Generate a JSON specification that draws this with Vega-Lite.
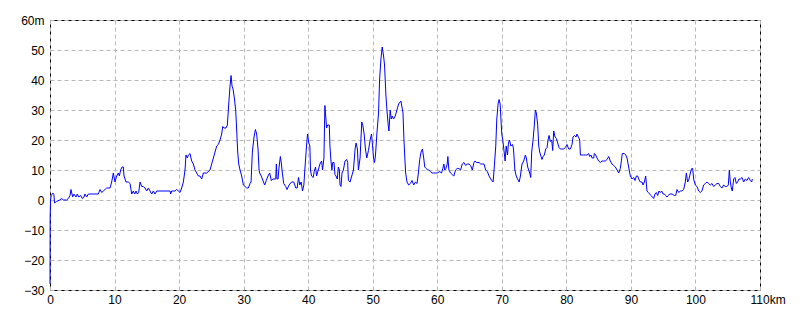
{
  "$schema": "https://vega.github.io/schema/vega-lite/v6.json",
  "width": 710,
  "height": 270,
  "autosize": {"type": "none"},
  "padding": {"left": 50, "top": 20, "right": 40, "bottom": 30},
  "background": "white",
  "config": {
    "view": {"stroke": "black", "strokeWidth": 1},
    "axis": {
      "labelFont": "Liberation Sans",
      "labelFontSize": 12,
      "labelColor": "black",
      "domain": false,
      "ticks": false,
      "grid": true,
      "gridColor": "#b8b8b8",
      "gridDash": [4, 3],
      "gridWidth": 1,
      "title": null
    }
  },
  "data": {
    "values": [
      {"km":0,"m":-28},{"km":0.02,"m":-6},{"km":0.08,"m":0},{"km":0.2,"m":1.5},{"km":0.45,"m":2.3},{"km":0.6,"m":1.8},{"km":0.7,"m":-1},{"km":1.0,"m":-0.5},{"km":1.5,"m":0},{"km":1.8,"m":0.5},{"km":2.07,"m":0},{"km":2.58,"m":0},{"km":2.84,"m":0.5},{"km":3.1,"m":1.5},{"km":3.25,"m":3.5},{"km":3.51,"m":1},{"km":3.72,"m":2},{"km":4.03,"m":1},{"km":4.24,"m":2},{"km":4.44,"m":1},{"km":4.75,"m":1.5},{"km":5.01,"m":0.5},{"km":5.27,"m":1},{"km":5.42,"m":2},{"km":5.68,"m":1},{"km":5.94,"m":2},{"km":7.49,"m":2},{"km":7.75,"m":3.5},{"km":8.01,"m":2.5},{"km":8.26,"m":3},{"km":8.78,"m":4},{"km":9.3,"m":4},{"km":9.56,"m":6},{"km":9.81,"m":9},{"km":10.07,"m":6},{"km":10.33,"m":8},{"km":10.59,"m":9},{"km":10.74,"m":8},{"km":10.95,"m":10},{"km":11.16,"m":11},{"km":11.36,"m":11},{"km":11.47,"m":8},{"km":11.78,"m":6},{"km":12.14,"m":6},{"km":12.4,"m":5.5},{"km":12.66,"m":2},{"km":12.91,"m":3},{"km":13.12,"m":2},{"km":13.33,"m":3},{"km":13.53,"m":2},{"km":13.74,"m":2.5},{"km":13.95,"m":6},{"km":14.2,"m":4.5},{"km":14.46,"m":4.5},{"km":14.72,"m":4},{"km":14.98,"m":3},{"km":15.24,"m":4},{"km":15.5,"m":3},{"km":15.75,"m":2},{"km":16.01,"m":3},{"km":16.27,"m":2},{"km":16.53,"m":3},{"km":17.05,"m":3},{"km":18.6,"m":3},{"km":18.7,"m":2},{"km":18.85,"m":3},{"km":19.37,"m":3},{"km":19.63,"m":3.5},{"km":19.89,"m":3},{"km":20.14,"m":2.5},{"km":20.4,"m":4},{"km":20.66,"m":6},{"km":20.92,"m":10},{"km":21.07,"m":15},{"km":21.28,"m":14},{"km":21.44,"m":15},{"km":21.69,"m":15.5},{"km":21.95,"m":13},{"km":22.21,"m":12},{"km":22.47,"m":10},{"km":22.73,"m":9},{"km":22.99,"m":8},{"km":23.24,"m":8},{"km":23.5,"m":7},{"km":23.76,"m":9},{"km":24.28,"m":9},{"km":24.79,"m":10},{"km":25.05,"m":12},{"km":25.31,"m":14},{"km":25.57,"m":16},{"km":25.83,"m":18},{"km":26.08,"m":18.5},{"km":26.34,"m":20},{"km":26.6,"m":22},{"km":26.76,"m":24.5},{"km":26.96,"m":24},{"km":27.27,"m":24},{"km":27.48,"m":25},{"km":27.69,"m":32},{"km":27.89,"m":38},{"km":28.05,"m":41.5},{"km":28.2,"m":38},{"km":28.36,"m":37},{"km":28.56,"m":34},{"km":28.77,"m":30},{"km":28.93,"m":23},{"km":29.08,"m":16},{"km":29.24,"m":12},{"km":29.44,"m":10},{"km":29.7,"m":8},{"km":29.96,"m":5},{"km":30.22,"m":4.5},{"km":30.48,"m":4},{"km":30.73,"m":4},{"km":30.99,"m":5.5},{"km":31.15,"m":6},{"km":31.35,"m":16},{"km":31.61,"m":21},{"km":31.82,"m":23.5},{"km":32.02,"m":22},{"km":32.23,"m":17},{"km":32.39,"m":10},
      {"km":32.48,"m":9},{"km":32.73,"m":8},{"km":33.25,"m":5},{"km":33.51,"m":6.5},{"km":33.77,"m":8},{"km":34.03,"m":9},{"km":34.29,"m":6.5},{"km":34.55,"m":7},{"km":34.97,"m":7},{"km":35.07,"m":12},{"km":35.17,"m":7},{"km":35.33,"m":7},{"km":35.49,"m":11},{"km":35.69,"m":14.5},{"km":35.85,"m":12},{"km":36.0,"m":9},{"km":36.21,"m":5.5},{"km":36.52,"m":4.5},{"km":36.73,"m":3.5},{"km":37.04,"m":5},{"km":37.41,"m":6},{"km":37.77,"m":6},{"km":38.08,"m":4},{"km":38.29,"m":4},{"km":38.5,"m":7.5},{"km":38.7,"m":5},{"km":38.91,"m":6},{"km":39.12,"m":3},{"km":39.33,"m":5},{"km":39.48,"m":10},{"km":39.74,"m":18},{"km":39.9,"m":22},{"km":40.1,"m":19},{"km":40.26,"m":18},{"km":40.36,"m":10},{"km":40.52,"m":8},{"km":40.78,"m":7.5},{"km":40.93,"m":9.5},{"km":41.14,"m":11},{"km":41.3,"m":8},{"km":41.56,"m":10},{"km":41.82,"m":12},{"km":42.08,"m":13},{"km":42.23,"m":10},{"km":42.44,"m":14},{"km":42.59,"m":31.5},{"km":42.75,"m":27},{"km":42.85,"m":24},{"km":43.01,"m":25},{"km":43.27,"m":25},{"km":43.37,"m":18},{"km":43.53,"m":13},{"km":43.68,"m":10},{"km":43.79,"m":12.5},{"km":44.0,"m":12.5},{"km":44.15,"m":8.5},{"km":44.31,"m":8},{"km":44.51,"m":7},{"km":44.67,"m":11},{"km":44.83,"m":10},{"km":44.93,"m":5},{"km":45.09,"m":4.5},{"km":45.24,"m":9},{"km":45.45,"m":10},{"km":45.71,"m":13},{"km":45.97,"m":13.5},{"km":46.12,"m":12.5},{"km":46.23,"m":6.5},{"km":46.49,"m":6},{"km":46.75,"m":8},{"km":47.01,"m":10},{"km":47.27,"m":17},{"km":47.42,"m":19},{"km":47.63,"m":17},{"km":47.78,"m":10},{"km":48.04,"m":14},{"km":48.3,"m":26},{"km":48.46,"m":25},{"km":48.67,"m":22},{"km":48.87,"m":17},{"km":49.08,"m":14},{"km":49.34,"m":16.5},{"km":49.6,"m":20},{"km":49.81,"m":22},{"km":50.02,"m":17},{"km":50.12,"m":14},{"km":50.28,"m":12.5},{"km":50.43,"m":15},{"km":50.64,"m":22},{"km":50.9,"m":29},{"km":51.06,"m":40},{"km":51.27,"m":47},{"km":51.47,"m":51},{"km":51.68,"m":48},{"km":51.83,"m":45},{"km":52.04,"m":35},{"km":52.2,"m":30},{"km":52.4,"m":25},{"km":52.51,"m":23},{"km":52.71,"m":30},{"km":52.87,"m":27},{"km":53.03,"m":28},{"km":53.23,"m":27},{"km":53.49,"m":28},{"km":53.75,"m":30},{"km":54.01,"m":32},{"km":54.37,"m":33},{"km":54.53,"m":31},{"km":54.69,"m":29},{"km":54.84,"m":20},{"km":54.95,"m":15},{"km":55.1,"m":9},{"km":55.31,"m":6},{"km":55.57,"m":5},{"km":55.83,"m":5.5},{"km":56.09,"m":6.5},{"km":56.35,"m":5},{"km":56.61,"m":6},{"km":56.87,"m":5.5},{"km":57.07,"m":9},{"km":57.28,"m":13.5},{"km":57.49,"m":16},{"km":57.7,"m":17},{"km":57.9,"m":14},{"km":58.06,"m":11},{"km":58.27,"m":10.5},{"km":58.53,"m":10},{"km":58.68,"m":10},{"km":58.94,"m":9.5},{"km":59.2,"m":9},{"km":59.46,"m":9},{"km":59.72,"m":9},{"km":59.98,"m":9},{"km":60.39,"m":9.5},{"km":60.65,"m":9},{"km":60.86,"m":10.5},{"km":61.02,"m":12},{"km":61.17,"m":10},{"km":61.33,"m":10.5},{"km":61.54,"m":12},{"km":61.64,"m":14.5},{"km":61.8,"m":10},{"km":62.06,"m":9},{"km":62.31,"m":8.5},{"km":62.57,"m":8},{"km":62.83,"m":10},{"km":63.09,"m":10.5},{"km":63.35,"m":10.5},{"km":63.61,"m":10},{"km":63.87,"m":12},{"km":64.13,"m":12.5},{"km":64.39,"m":11.5},{"km":64.65,"m":12},{"km":64.91,"m":12},{"km":65.17,"m":11.5},{"km":65.43,"m":10},{"km":65.69,"m":12.5},{"km":65.84,"m":13},{"km":66.1,"m":12.5},{"km":66.47,"m":12.5},{"km":66.73,"m":12},{"km":66.98,"m":12},{"km":67.24,"m":12},{"km":67.5,"m":10},{"km":67.76,"m":9.5},{"km":68.02,"m":8},{"km":68.28,"m":7},{"km":68.65,"m":6},{"km":68.8,"m":10},{"km":69.06,"m":18},{"km":69.22,"m":27},{"km":69.42,"m":32},{"km":69.58,"m":33.5},{"km":69.74,"m":32},{"km":69.84,"m":28},{"km":69.99,"m":22},{"km":70.15,"m":20},{"km":70.36,"m":16},{"km":70.51,"m":13},{"km":70.67,"m":18},{"km":70.88,"m":15},{"km":71.03,"m":19},{"km":71.19,"m":20},{"km":71.4,"m":18},{"km":71.66,"m":18.5},{"km":71.81,"m":17},{"km":72.02,"m":10},{"km":72.23,"m":8},{"km":72.43,"m":7},{"km":72.69,"m":6},
      {"km":72.88,"m":8},{"km":73.13,"m":12},{"km":73.39,"m":13},{"km":73.65,"m":15},{"km":73.8,"m":14},{"km":74.01,"m":11},{"km":74.17,"m":10},{"km":74.32,"m":9},{"km":74.48,"m":7.5},{"km":74.63,"m":16},{"km":74.84,"m":20},{"km":75.04,"m":25},{"km":75.2,"m":30},{"km":75.35,"m":29},{"km":75.56,"m":25},{"km":75.72,"m":18},{"km":75.87,"m":16},{"km":76.08,"m":14.5},{"km":76.23,"m":13.5},{"km":76.39,"m":14.5},{"km":76.59,"m":15},{"km":76.8,"m":17},{"km":77.01,"m":17.5},{"km":77.16,"m":20},{"km":77.32,"m":21.5},{"km":77.52,"m":19.5},{"km":77.73,"m":20},{"km":77.88,"m":16.5},{"km":78.04,"m":23},{"km":78.25,"m":21},{"km":78.45,"m":20.5},{"km":78.66,"m":19},{"km":78.86,"m":17.5},{"km":79.07,"m":17},{"km":79.33,"m":17},{"km":79.59,"m":17},{"km":79.85,"m":17.5},{"km":80.1,"m":18.5},{"km":80.36,"m":17},{"km":80.62,"m":17},{"km":80.88,"m":18.5},{"km":81.03,"m":21},{"km":81.24,"m":21.5},{"km":81.5,"m":21},{"km":81.65,"m":22},{"km":81.86,"m":21},{"km":82.07,"m":20},{"km":82.17,"m":15},{"km":82.43,"m":15},{"km":82.68,"m":15},{"km":82.94,"m":15},{"km":83.2,"m":15},{"km":83.46,"m":15.5},{"km":83.61,"m":14.5},{"km":83.82,"m":15},{"km":83.98,"m":14},{"km":84.23,"m":14},{"km":84.34,"m":15.5},{"km":84.54,"m":15},{"km":84.75,"m":14},{"km":85.01,"m":13},{"km":85.27,"m":12.5},{"km":85.52,"m":13},{"km":85.78,"m":13},{"km":86.04,"m":13},{"km":86.3,"m":13.5},{"km":86.56,"m":14.5},{"km":86.81,"m":13},{"km":87.07,"m":12},{"km":87.33,"m":11.5},{"km":87.59,"m":11},{"km":87.85,"m":10},{"km":88.11,"m":9},{"km":88.36,"m":10.5},{"km":88.52,"m":13},{"km":88.67,"m":15.5},{"km":88.98,"m":15.5},{"km":89.19,"m":15},{"km":89.4,"m":14},{"km":89.65,"m":11},{"km":89.91,"m":8},{"km":90.17,"m":7},{"km":90.43,"m":7.5},{"km":90.64,"m":6.5},{"km":90.85,"m":8},{"km":91.05,"m":8},{"km":91.2,"m":7},{"km":91.46,"m":6},{"km":91.72,"m":6},{"km":91.88,"m":5},{"km":92.08,"m":6},{"km":92.29,"m":8},{"km":92.49,"m":3},{"km":92.7,"m":2.5},{"km":92.91,"m":2},{"km":93.11,"m":1.5},{"km":93.32,"m":1},{"km":93.53,"m":0.5},{"km":93.73,"m":2},{"km":93.94,"m":2.5},{"km":94.15,"m":1.5},{"km":94.35,"m":3},{"km":94.56,"m":2.5},{"km":94.77,"m":3},{"km":94.97,"m":2},{"km":95.18,"m":2},{"km":95.38,"m":1.5},{"km":95.59,"m":1},{"km":95.8,"m":1.5},{"km":96.0,"m":2},{"km":96.37,"m":2},{"km":96.73,"m":1.5},{"km":96.94,"m":1.5},{"km":97.14,"m":3.5},{"km":97.4,"m":2.5},{"km":97.66,"m":3},{"km":97.92,"m":3},{"km":98.17,"m":3.5},{"km":98.43,"m":6},{"km":98.59,"m":9},{"km":98.79,"m":6},{"km":99.0,"m":7},{"km":99.21,"m":9},{"km":99.41,"m":10.5},{"km":99.57,"m":10.5},{"km":99.72,"m":7},{"km":99.98,"m":5},{"km":100.24,"m":4.5},{"km":100.5,"m":3},{"km":100.75,"m":2.5},{"km":101.01,"m":3},{"km":101.27,"m":5},{"km":101.53,"m":5.5},{"km":101.79,"m":6},{"km":102.04,"m":5.5},{"km":102.3,"m":5},{"km":102.56,"m":5.5},{"km":102.82,"m":4.5},{"km":103.08,"m":5},{"km":103.34,"m":5.5},{"km":103.59,"m":5.5},{"km":103.85,"m":4.5},{"km":104.11,"m":4},{"km":104.37,"m":5},{"km":104.63,"m":4.5},{"km":104.88,"m":4.5},{"km":105.09,"m":5},{"km":105.25,"m":10},{"km":105.4,"m":6},{"km":105.56,"m":4},{"km":105.71,"m":3},{"km":105.92,"m":7},{"km":106.12,"m":7.5},{"km":106.33,"m":5.5},{"km":106.54,"m":6},{"km":106.74,"m":7},{"km":106.95,"m":7},{"km":107.21,"m":7.5},{"km":107.47,"m":6},{"km":107.72,"m":7},{"km":107.98,"m":6.5},{"km":108.24,"m":7.5},{"km":108.5,"m":6.5},{"km":108.71,"m":6},{"km":108.81,"m":7}
    ]
  },
  "mark": {"type": "line", "color": "#0000ff", "strokeWidth": 1, "interpolate": "linear"},
  "encoding": {
    "x": {
      "field": "km",
      "type": "quantitative",
      "scale": {"domain": [0, 110], "nice": false, "zero": false},
      "axis": {
        "values": [0, 10, 20, 30, 40, 50, 60, 70, 80, 90, 100, 110],
        "labelPadding": 4,
        "labelBaseline": "top",
        "labelFlush": false,
        "labelAlign": {"condition": {"test": "datum.value == 110", "value": "left"}, "value": "center"},
        "labelOffset": {"condition": {"test": "datum.value == 110", "value": -10}, "value": 0},
        "labelExpr": "datum.value == 110 ? '110km' : datum.label"
      }
    },
    "y": {
      "field": "m",
      "type": "quantitative",
      "scale": {"domain": [-30, 60], "nice": false, "zero": false},
      "axis": {
        "values": [-30, -20, -10, 0, 10, 20, 30, 40, 50, 60],
        "labelPadding": 6,
        "labelFlush": false,
        "labelExpr": "datum.value == 60 ? '60m' : datum.label"
      }
    }
  }
}
